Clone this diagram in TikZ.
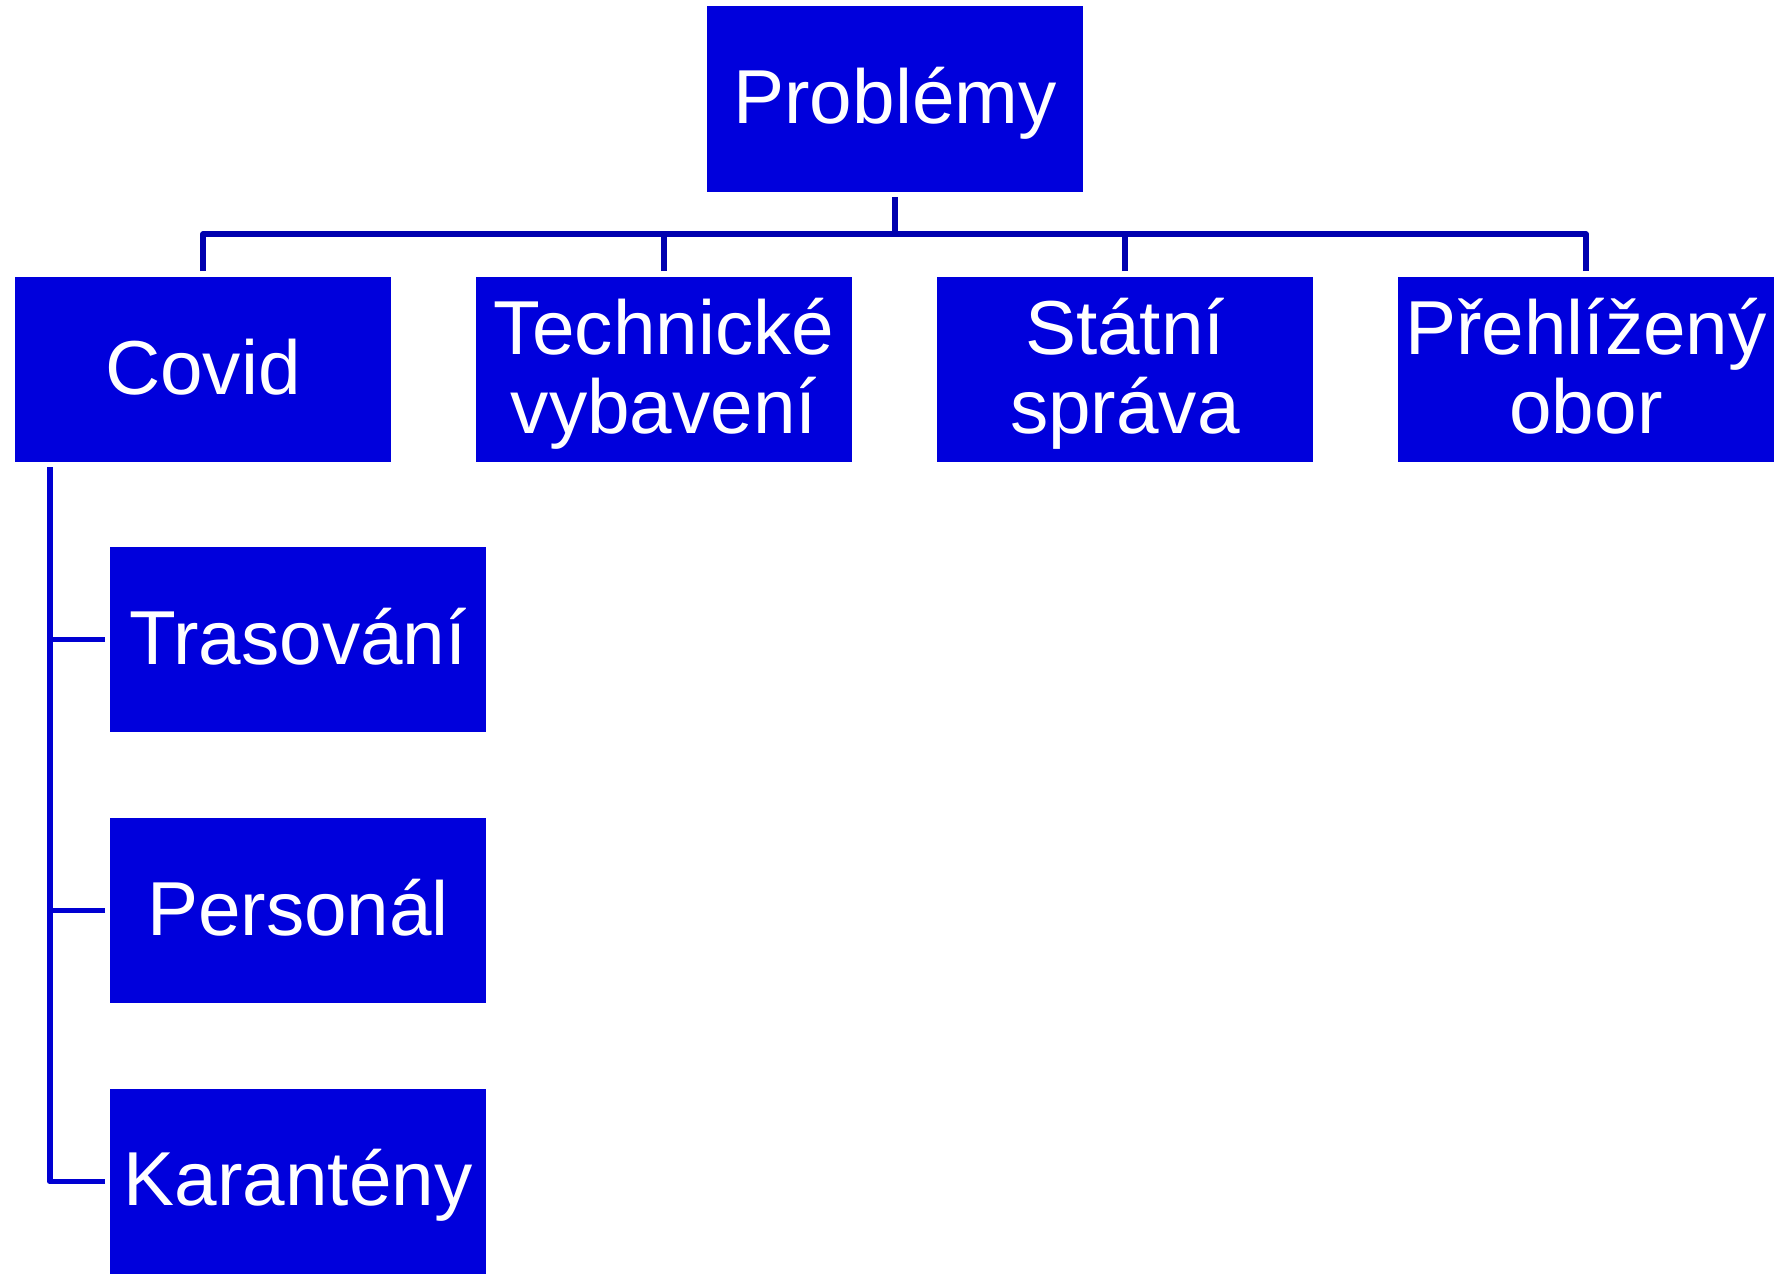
\documentclass[tikz,border=0pt]{standalone}
\usepackage{fontspec}
\setmainfont{Liberation Sans}
\usetikzlibrary{calc}
\definecolor{boxblue}{RGB}{0,0,220}
\definecolor{lineblue}{RGB}{0,0,175}
\definecolor{spineblue}{RGB}{0,0,210}
\tikzset{
  box/.style={anchor=north west, fill=boxblue, draw=none, minimum width=376pt, minimum height=185pt, inner sep=0pt, outer sep=0pt},
  lbl/.style={anchor=base, text=white, inner sep=0pt, font=\fontsize{76.5}{79}\selectfont},
  conn/.style={draw=lineblue, line width=5.7pt, line join=round, line cap=butt},
  sconn/.style={draw=spineblue, line width=5.7pt, line join=round, line cap=butt}
}
\begin{document}
\begin{tikzpicture}[x=1pt,y=-1pt]
\useasboundingbox (0,0) rectangle (1783,1277);
% boxes
\node[box, minimum height=186pt] (p) at (707,6) {};
\node[box] (c) at (15,277) {};
\node[box] (te) at (476,277) {};
\node[box] (st) at (937,277) {};
\node[box] (pr) at (1398,277) {};
\node[box] (t) at (110,547) {};
\node[box] (pe) at (110,818) {};
\node[box] (k) at (110,1089) {};
% labels
\node[lbl] (pl) at ([yshift=-24pt]p.center) {Problémy};
\node[lbl] (cl) at ([yshift=-24.5pt]c.center) {Covid};
\node[lbl] (tel1) at ([yshift=15.5pt]te.center) {Technické};
\node[lbl] (tel2) at ([yshift=-63.5pt]te.center) {vybavení};
\node[lbl] (stl1) at ([yshift=15.5pt]st.center) {Státní};
\node[lbl] (stl2) at ([yshift=-63.5pt]st.center) {správa};
\node[lbl] (prl1) at ([yshift=15.5pt]pr.center) {Přehlížený};
\node[lbl] (prl2) at ([yshift=-63.5pt]pr.center) {obor};
\node[lbl] (tl) at ([yshift=-24.5pt]t.center) {Trasování};
\node[lbl] (pel) at ([yshift=-24.5pt]pe.center) {Personál};
\node[lbl] (kl) at ([yshift=-24pt]k.center) {Karantény};
% top connectors
\coordinate (bus) at ([yshift=-42pt]p.south);
\draw[conn] ([yshift=-5pt]p.south) -- (bus);
\draw[conn] ([yshift=6pt]c.north) |- (bus);
\draw[conn] ([yshift=6pt]pr.north) |- (bus);
\draw[conn] ([yshift=6pt]te.north) -- (te.north |- bus);
\draw[conn] ([yshift=6pt]st.north) -- (st.north |- bus);
% left connectors
\coordinate (spine) at ([xshift=35pt,yshift=-5pt]c.south west);
\draw[sconn] (spine) |- ([xshift=-5pt]k.west);
\draw[sconn] ([xshift=-5pt]t.west) -- (t.west -| spine);
\draw[sconn] ([xshift=-5pt]pe.west) -- (pe.west -| spine);
\end{tikzpicture}
\end{document}
